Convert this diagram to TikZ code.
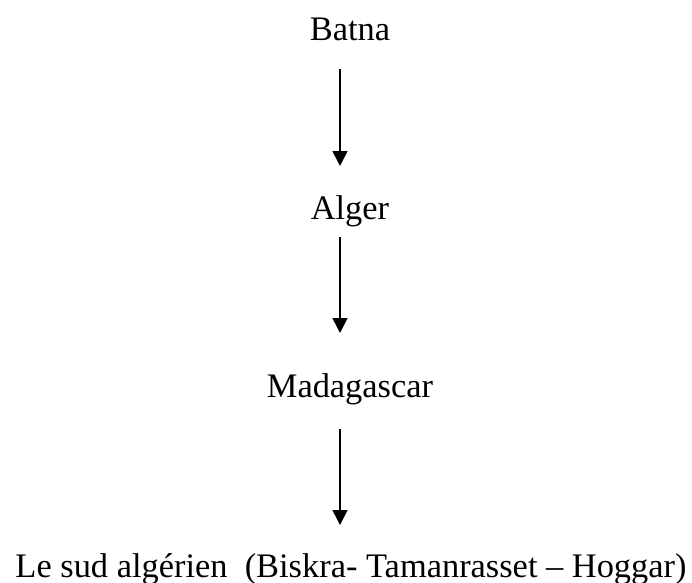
\documentclass[tikz,border=0pt]{standalone}
\usepackage{fontspec}
\setmainfont{Liberation Serif}
\usetikzlibrary{arrows.meta}
\begin{document}
\begin{tikzpicture}[x=1pt,y=-1pt,
  place/.style={anchor=base,inner sep=0pt,font=\fontsize{34.4}{40}\selectfont},
  flow/.style={line width=1.6pt,-{Triangle[length=15pt,width=15pt]}}]
\useasboundingbox (0,0) rectangle (692,582);
% stages of the journey
\node[place] (batna) at (350,40) {Batna};
\node[place] (alger) at (350,219) {Alger};
\node[place] (mada)  at (350,397) {Madagascar};
\node[place] (sud)   at (351,577) {Le sud algérien\ \ (Biskra- Tamanrasset – Hoggar)};
% arrows between the stages
\draw[flow] ([xshift=-10pt,yshift=-29pt]batna.base) -- ([xshift=-10pt,yshift=53pt]alger.base);
\draw[flow] ([xshift=-10pt,yshift=-18pt]alger.base) -- ([xshift=-10pt,yshift=64pt]mada.base);
\draw[flow] ([xshift=-10pt,yshift=-32pt]mada.base) -- ([xshift=-11pt,yshift=52pt]sud.base);
\end{tikzpicture}
\end{document}
